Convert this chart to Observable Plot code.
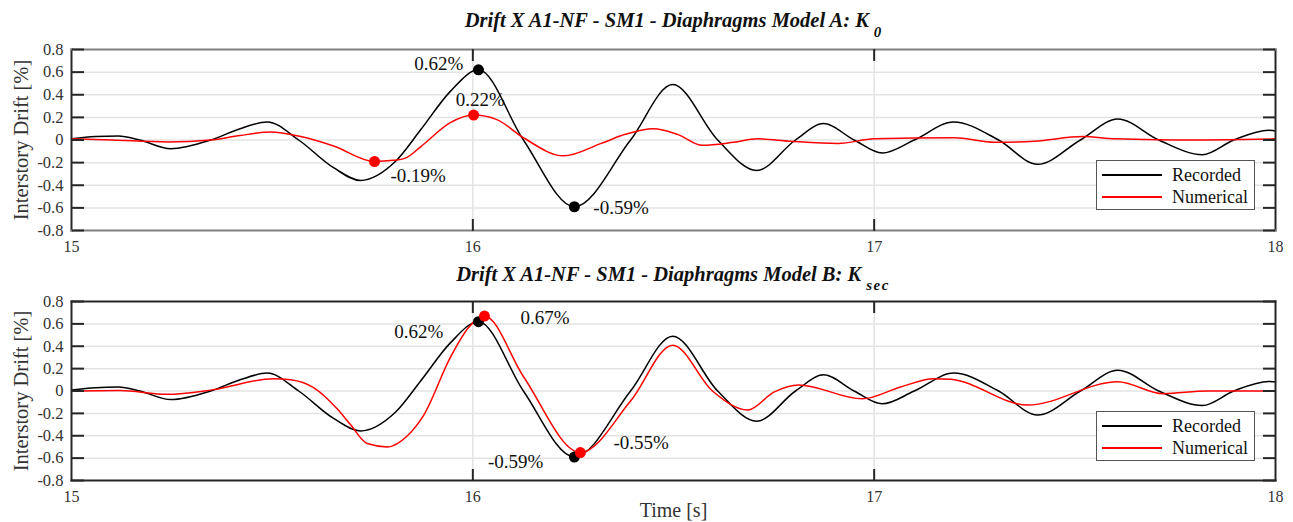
<!DOCTYPE html>
<html>
<head>
<meta charset="utf-8">
<script src="https://cdn.jsdelivr.net/npm/d3@7"></script>
<script src="https://cdn.jsdelivr.net/npm/@observablehq/plot@0.6"></script>
<style>
  body { margin: 0; background: #fff; }
  #wrap { position: relative; width: 1293px; height: 522px; overflow: hidden; font-family: "Liberation Serif", "DejaVu Serif", serif; }
  .panel { position: absolute; left: 0; }
  .title { position: absolute; left: 71px; width: 1204px; text-align: center; font-family: "Liberation Serif", serif; font-style: italic; font-weight: bold; font-size: 20.5px; color: #111; white-space: nowrap; line-height: 24px; height: 24px; }
  .title .sub { font-size: 15px; position: relative; top: 10px; margin-left: 5px; }
  .title .sub.sec { letter-spacing: 1.5px; top: 9px; }
  .legend { position: absolute; left: 1096px; width: 159px; height: 50px; box-sizing: border-box; border: 1px solid #555; background: #fff; padding-top: 3px; }
  .legend .row { height: 22px; line-height: 22px; font-size: 18px; color: #111; display: flex; align-items: center; }
  .legend .sw { display: inline-block; width: 60px; height: 0; border-top: 2px solid; margin-left: 5px; margin-right: 10px; }
</style>
</head>
<body>
<div id="wrap"></div>
<script>
// ---------- data ----------
const xTicks = [15, 16, 17, 18];
const yTicks = [-0.8, -0.6, -0.4, -0.2, 0, 0.2, 0.4, 0.6, 0.8];
const series = ["Recorded", "Numerical"];
const titles = ["Drift X A1-NF - SM1 - Diaphragms Model A: K", "Drift X A1-NF - SM1 - Diaphragms Model B: K"];
const titleSubs = ["0", "sec"];
const xLabel = "Time [s]";
const yLabel = "Interstory Drift [%]";

// Recorded drift (same in both panels)
const recT = [15.0, 15.06, 15.117, 15.17, 15.247, 15.347, 15.42, 15.488, 15.566, 15.653, 15.72, 15.807, 15.87, 15.944, 16.014, 16.126, 16.253, 16.393, 16.498, 16.61, 16.707, 16.804, 16.874, 16.95, 17.02, 17.1, 17.198, 17.31, 17.407, 17.514, 17.607, 17.709, 17.818, 17.896, 17.983, 18.0];
const recV = [0.01, 0.03, 0.035, 0.0, -0.077, 0.0, 0.1, 0.16, 0.0, -0.245, -0.357, -0.19, 0.09, 0.43, 0.62, 0.0, -0.59, 0.0, 0.49, 0.0, -0.27, 0.0, 0.145, 0.0, -0.115, 0.0, 0.16, 0.0, -0.215, 0.0, 0.186, 0.0, -0.13, 0.0, 0.086, 0.08];

// Numerical, Model A: K0
const numAT = [15.0, 15.1, 15.24, 15.347, 15.42, 15.496, 15.571, 15.653, 15.755, 15.802, 15.832, 15.87, 15.944, 16.002, 16.06, 16.126, 16.226, 16.32, 16.38, 16.45, 16.51, 16.572, 16.65, 16.71, 16.79, 16.91, 17.0, 17.2, 17.3, 17.4, 17.52, 17.6, 17.75, 18.0];
const numAV = [0.01, 0.0, -0.017, 0.0, 0.04, 0.07, 0.03, -0.053, -0.19, -0.18, -0.16, -0.06, 0.153, 0.22, 0.18, 0.02, -0.14, -0.03, 0.05, 0.1, 0.05, -0.047, -0.02, 0.01, -0.01, -0.03, 0.01, 0.02, -0.02, -0.01, 0.03, 0.01, 0.0, 0.01];

// Numerical, Model B: Ksec
const numBT = [15.0, 15.12, 15.239, 15.35, 15.504, 15.546, 15.603, 15.663, 15.695, 15.737, 15.787, 15.837, 15.877, 15.944, 15.99, 16.029, 16.126, 16.268, 16.393, 16.498, 16.597, 16.685, 16.75, 16.812, 16.97, 17.066, 17.148, 17.19, 17.383, 17.607, 17.72, 17.83, 18.0];
const numBV = [0.0, 0.005, -0.03, 0.01, 0.11, 0.10, 0.03, -0.164, -0.30, -0.47, -0.50, -0.40, -0.22, 0.30, 0.57, 0.67, 0.13, -0.55, -0.09, 0.41, 0.0, -0.17, -0.01, 0.054, -0.07, 0.036, 0.11, 0.105, -0.125, 0.083, -0.024, 0.0, 0.0];

// Marked peaks
const recPeakT = [16.014, 16.253];
const recPeakV = [0.62, -0.59];
const numAPeakT = [15.755, 16.002];
const numAPeakV = [-0.19, 0.22];
const numBPeakT = [16.029, 16.268];
const numBPeakV = [0.67, -0.55];

// ---------- helpers ----------
const zipTV = (T, V) => T.map((t, i) => ({t, v: V[i]}));
const pct = v => v.toFixed(2) + "%";
const tickFmt = d => d === 0 ? "0" : d.toFixed(1);
const DARK = "#262626";
const CURVE = "monotone-x";

function label(T, V, i, anchor, dx, dy) {
  return Plot.text([i], {x: j => T[j], y: j => V[j], text: j => pct(V[j]), textAnchor: anchor, dx, dy, fontSize: 19, fill: "#111", lineAnchor: "middle"});
}

function makePanel({numT, numV, numPT, numPV, height, marginTop, marginBottom, frameTB, labels, showXLabel}) {
  const rec = zipTV(recT, recV);
  const num = zipTV(numT, numV);
  const marks = [
    Plot.gridY(yTicks.slice(1, -1), {stroke: "#e3e3e3", strokeOpacity: 1, strokeWidth: 1.5}),
    Plot.gridX([16, 17], {stroke: "#e3e3e3", strokeOpacity: 1, strokeWidth: 1.5}),
    Plot.line(rec, {x: "t", y: "v", stroke: "#000", strokeWidth: 1.5, curve: CURVE}),
    Plot.line(num, {x: "t", y: "v", stroke: "#ff0000", strokeWidth: 1.5, curve: CURVE}),
    Plot.dot(zipTV(recPeakT, recPeakV), {x: "t", y: "v", r: 5.5, fill: "#000", stroke: "none"}),
    Plot.dot(zipTV(numPT, numPV), {x: "t", y: "v", r: 5.5, fill: "#ff0000", stroke: "none"}),
    ...labels,
    // frame
    Plot.frame({anchor: "left", stroke: DARK, strokeWidth: 2}),
    Plot.frame({anchor: "right", stroke: DARK, strokeWidth: 2}),
    Plot.frame({anchor: "top", stroke: frameTB, strokeWidth: 2}),
    Plot.frame({anchor: "bottom", stroke: frameTB, strokeWidth: 2}),
    // inward ticks
    Plot.axisY(yTicks, {anchor: "right", frameAnchor: "left", tickSize: 12, fill: "none", stroke: DARK, strokeWidth: 2, label: null}),
    Plot.axisY(yTicks, {anchor: "left", frameAnchor: "right", tickSize: 12, fill: "none", stroke: DARK, strokeWidth: 2, label: null}),
    Plot.axisX([16, 17], {anchor: "top", frameAnchor: "bottom", tickSize: 12, fill: "none", stroke: DARK, strokeWidth: 2, label: null}),
    Plot.axisX([16, 17], {anchor: "bottom", frameAnchor: "top", tickSize: 12, fill: "none", stroke: DARK, strokeWidth: 2, label: null}),
    // tick labels
    Plot.axisY(yTicks, {anchor: "left", tickSize: 0, tickPadding: 8, tickFormat: tickFmt, fontSize: 16.5, fill: "#333", label: null}),
    Plot.axisX(xTicks, {anchor: "bottom", tickSize: 0, tickPadding: 10, tickFormat: d => String(d), fontSize: 16, fill: "#333", label: null}),
    // axis titles
    Plot.text([yLabel], {frameAnchor: "left", rotate: -90, dx: -50, text: d => d, fontSize: 20.5, fill: "#333", textAnchor: "middle", lineAnchor: "middle"})
  ];
  if (showXLabel) {
    marks.push(Plot.text([xLabel], {frameAnchor: "bottom", dy: 30, text: d => d, fontSize: 20, fill: "#333", textAnchor: "middle", lineAnchor: "middle"}));
  }
  return Plot.plot({
    width: 1293,
    height,
    marginLeft: 71,
    marginRight: 18,
    marginTop,
    marginBottom,
    x: {domain: [15, 18]},
    y: {domain: [-0.8, 0.8]},
    style: {fontFamily: "Liberation Serif, serif", fontSize: "16px", color: "#333", background: "transparent", overflow: "visible"},
    marks
  });
}

const wrap = document.getElementById("wrap");

const p1 = makePanel({
  numT: numAT, numV: numAV, numPT: numAPeakT, numPV: numAPeakV,
  height: 260, marginTop: 49, marginBottom: 30, frameTB: "#808080",
  labels: [
    label(recPeakT, recPeakV, 0, "end", -15, -6),
    label(recPeakT, recPeakV, 1, "start", 19, 1),
    label(numAPeakT, numAPeakV, 0, "start", 16, 14),
    label(numAPeakT, numAPeakV, 1, "start", -18, -15)
  ],
  showXLabel: false
});
p1.classList.add("panel");
p1.style.top = "0px";
wrap.appendChild(p1);

const p2 = makePanel({
  numT: numBT, numV: numBV, numPT: numBPeakT, numPV: numBPeakV,
  height: 262, marginTop: 41, marginBottom: 42, frameTB: DARK,
  labels: [
    label(recPeakT, recPeakV, 0, "end", -35, 10),
    label(recPeakT, recPeakV, 1, "end", -31, 5),
    label(numBPeakT, numBPeakV, 0, "start", 36, 2),
    label(numBPeakT, numBPeakV, 1, "start", 33, -10)
  ],
  showXLabel: true
});
p2.classList.add("panel");
p2.style.top = "260px";
wrap.appendChild(p2);

// titles
[[8, 0], [262, 1]].forEach(([top, i]) => {
  const d = document.createElement("div");
  d.className = "title";
  d.style.top = top + "px";
  d.appendChild(document.createTextNode(titles[i]));
  const s = document.createElement("span");
  s.className = "sub" + (i === 1 ? " sec" : "");
  s.textContent = titleSubs[i];
  d.appendChild(s);
  wrap.appendChild(d);
});

// legends
[160, 411].forEach(top => {
  const lg = document.createElement("div");
  lg.className = "legend";
  lg.style.top = top + "px";
  series.forEach((name, i) => {
    const row = document.createElement("div");
    row.className = "row";
    const sw = document.createElement("span");
    sw.className = "sw";
    sw.style.borderColor = i === 0 ? "#000" : "#ff0000";
    row.appendChild(sw);
    row.appendChild(document.createTextNode(name));
    lg.appendChild(row);
  });
  wrap.appendChild(lg);
});
</script>
</body>
</html>
